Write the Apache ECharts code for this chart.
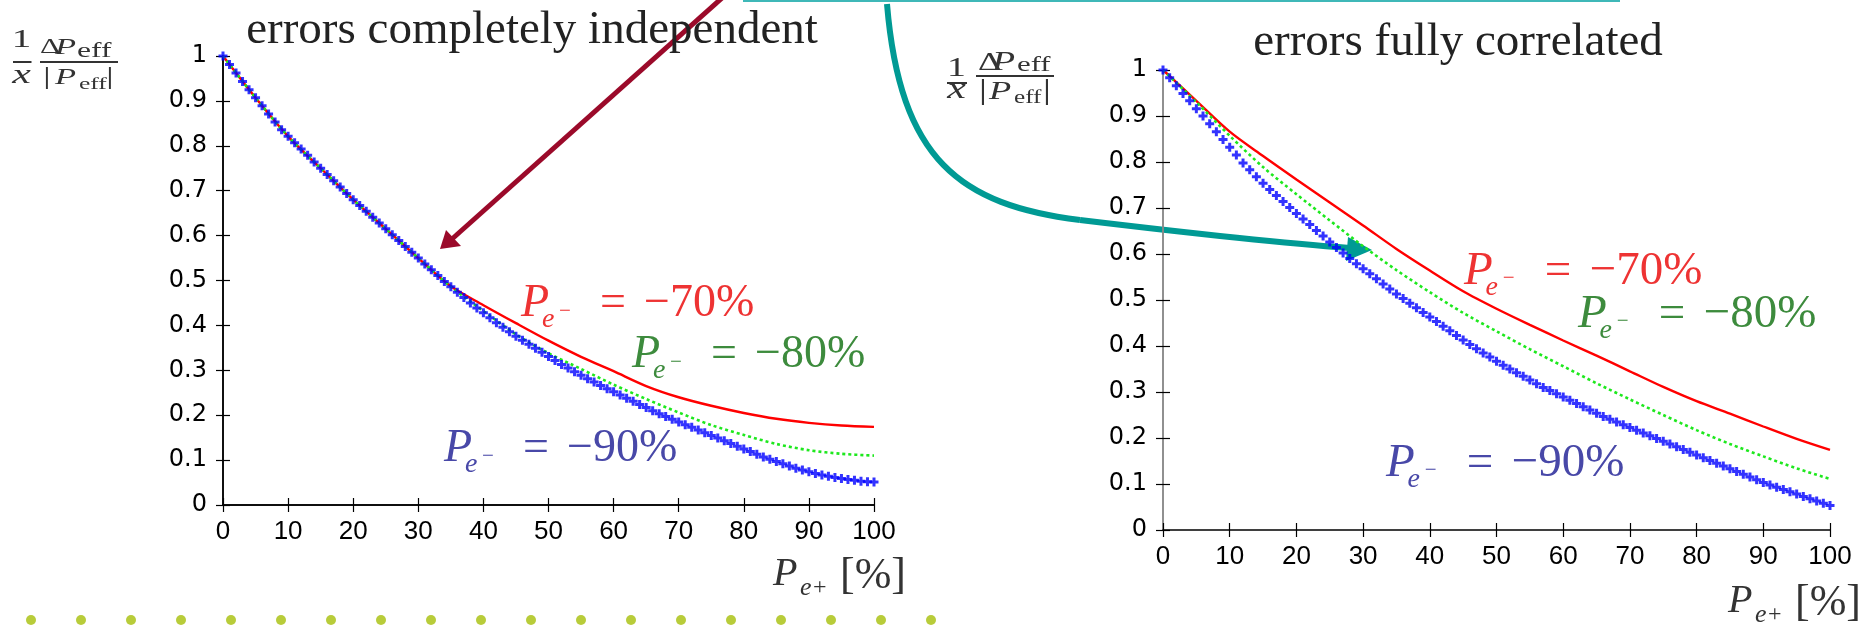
<!DOCTYPE html>
<html><head><meta charset="utf-8">
<script src="https://cdn.jsdelivr.net/npm/echarts@6/dist/echarts.min.js"></script>
<style>html,body{margin:0;padding:0;background:#fff}#c{width:1871px;height:627px}</style>
</head><body><div id="c"></div>
<script>
// ---------------- data ----------------
const pctFine = Array.from({length: 101}, (_, i) => i);
const pctCoarse = [0,5,10,15,20,25,30,35,40,45,50,55,60,65,70,75,80,85,90,95,100];
const yTickLabels = ['0','0.1','0.2','0.3','0.4','0.5','0.6','0.7','0.8','0.9','1'];
const xTickLabels = ['0','10','20','30','40','50','60','70','80','90','100'];

// errors completely independent
const indepBlue = [
 1.000,0.981,0.962,0.943,0.925,0.907,0.889,0.871,0.853,0.836,
 0.821,0.807,0.793,0.779,0.764,0.750,0.736,0.722,0.708,0.694,
 0.680,0.667,0.654,0.641,0.628,0.615,0.602,0.589,0.576,0.563,
 0.550,0.537,0.524,0.511,0.498,0.486,0.474,0.462,0.450,0.439,
 0.428,0.417,0.406,0.396,0.386,0.376,0.367,0.358,0.349,0.340,
 0.331,0.322,0.313,0.305,0.297,0.289,0.281,0.274,0.266,0.259,
 0.252,0.245,0.238,0.231,0.224,0.217,0.210,0.203,0.197,0.191,
 0.185,0.179,0.173,0.167,0.161,0.155,0.149,0.143,0.137,0.131,
 0.125,0.119,0.113,0.107,0.102,0.097,0.092,0.087,0.082,0.078,
 0.074,0.070,0.067,0.064,0.061,0.059,0.057,0.055,0.053,0.052,
 0.051];
const indepRed   = [1.000,0.907,0.821,0.750,0.680,0.615,0.550,0.487,0.445,0.405,0.366,0.330,0.298,0.265,0.240,0.221,0.205,0.192,0.183,0.177,0.174];
const indepGreen = [1.000,0.907,0.821,0.750,0.680,0.615,0.550,0.486,0.432,0.380,0.338,0.303,0.268,0.236,0.206,0.178,0.156,0.136,0.122,0.114,0.110];

// errors fully correlated
const corrBlue = [
 1.000,0.983,0.966,0.949,0.933,0.916,0.900,0.883,0.866,0.849,
 0.832,0.815,0.798,0.783,0.768,0.754,0.740,0.727,0.714,0.701,
 0.688,0.676,0.664,0.651,0.639,0.626,0.614,0.602,0.590,0.579,
 0.568,0.557,0.546,0.535,0.524,0.513,0.503,0.493,0.483,0.473,
 0.463,0.453,0.443,0.433,0.423,0.413,0.403,0.394,0.385,0.376,
 0.367,0.358,0.350,0.342,0.334,0.326,0.318,0.310,0.303,0.296,
 0.289,0.282,0.275,0.268,0.261,0.254,0.247,0.241,0.235,0.229,
 0.223,0.217,0.211,0.205,0.199,0.193,0.187,0.181,0.175,0.169,
 0.163,0.157,0.151,0.145,0.139,0.133,0.127,0.121,0.115,0.109,
 0.103,0.098,0.093,0.088,0.083,0.078,0.073,0.068,0.063,0.058,
 0.053];
const corrRed   = [1.000,0.933,0.866,0.813,0.762,0.712,0.662,0.611,0.564,0.519,0.481,0.446,0.412,0.379,0.345,0.311,0.280,0.253,0.225,0.198,0.174];
const corrGreen = [1.000,0.930,0.857,0.789,0.730,0.673,0.617,0.565,0.517,0.472,0.432,0.393,0.356,0.319,0.284,0.250,0.217,0.187,0.160,0.134,0.111];

const titles = ['errors completely independent', 'errors fully correlated'];
const seriesLabels = ['= \u221270%', '= \u221280%', '= \u221290%'];

// ---------------- helpers ----------------
const pairs = (xs, ys) => xs.map((x, i) => [x, ys[i]]);
const SERIF = '"Liberation Serif", "DejaVu Serif", serif';
const SANS = '"Liberation Sans", Arial, sans-serif';
const PLUS = 'path://M3,0H6V3H9V6H6V9H3V6H0V3H3Z';

function txt(x, y, text, font, color, align) {
  return {type:'text', x:x, y:y, silent:true,
    style:{text:text, font:font, fill:color, align:align||'left', verticalAlign:'middle'}};
}
function peLabel(x0, base, fs, color, rest) {
  const k = fs / 46;
  const [eq, val] = rest.split(' ');
  return {type:'group', x:x0, y:base, children:[
    txt(0, -0.34*fs, 'P', 'italic ' + fs + 'px ' + SERIF, color),
    txt(21*k, 9*k - 0.34*0.6*fs, 'e', 'italic ' + Math.round(0.6*fs) + 'px ' + SERIF, color),
    txt(38*k, -9*k, '\u2212', Math.round(0.45*fs) + 'px ' + SERIF, color),
    txt(79*k, -0.34*fs, eq, fs + 'px ' + SERIF, color),
    txt(123*k, -0.34*fs, val, fs + 'px ' + SERIF, color)
  ]};
}
function xName(x0, base) {
  const c = '#333';
  return {type:'group', x:x0, y:base, children:[
    txt(0, -13.5, 'P', 'italic 40px ' + SERIF, c),
    txt(27, 0, 'e', 'italic 26px ' + SERIF, c),
    txt(40, 0, '+', '24px ' + SERIF, c),
    txt(67, -12, '[%]', '44px ' + SERIF, c)
  ]};
}
// fraction label: items [text, x(full px), emMiddleY(full px), fontPx, italic, align]; bars [x, y, w]
function frac(x0, sx, items, bars) {
  const c = '#333';
  const ch = items.map(([t, x, y, fs, it, al]) =>
    txt((x - x0) / sx, y, t, (it ? 'italic ' : '') + fs + 'px ' + SERIF, c, al));
  bars.forEach(([x, y, w]) => ch.push({type:'rect', shape:{x:(x - x0) / sx, y:y, width:w / sx, height:2},
    style:{fill:c}, silent:true}));
  return {type:'group', x:x0, y:0, scaleX:sx, scaleY:1, children:ch};
}

// ---------------- axes ----------------
function xAxes(g, showLine, lineColor) {
  return [
    {type:'value', gridIndex:g, position:'bottom', min:0, max:100, interval:10,
      axisLine:{show:showLine, lineStyle:{color:lineColor, width:1.5}},
      axisTick:{show:true, inside:true, length:7, lineStyle:{color:'#000', width:1.2}},
      axisLabel:{margin:14, color:'#000', fontSize:26, fontFamily:SANS,
        formatter:(v)=>xTickLabels[Math.round(v/10)]},
      splitLine:{show:false}},
    {type:'value', gridIndex:g, position:'top', min:0, max:100, interval:10,
      axisLine:{show:true, lineStyle:{color:'#000', width:1.5}},
      axisTick:{show:true, inside:true, length:7, lineStyle:{color:'#000', width:1.2}},
      axisLabel:{show:false}, splitLine:{show:false}}
  ];
}
function yAxes(g, lineColor) {
  return [
    {type:'value', gridIndex:g, position:'left', min:0, max:1, interval:0.1,
      axisLine:{show:true, lineStyle:{color:lineColor, width:1.5}},
      axisTick:{show:true, inside:true, length:7, lineStyle:{color:'#000', width:1.2}},
      axisLabel:{margin:16, color:'#000', fontSize:24, fontFamily:'"DejaVu Sans", sans-serif',
        formatter:(v)=>yTickLabels[Math.round(v*10)]},
      splitLine:{show:false}},
    {type:'value', gridIndex:g, position:'right', min:0, max:1, interval:0.1,
      axisLine:{show:true, lineStyle:{color:lineColor, width:1.5}},
      axisTick:{show:true, inside:true, length:7, lineStyle:{color:'#000', width:1.2}},
      axisLabel:{show:false}, splitLine:{show:false}}
  ];
}
function plotSeries(xi, yi, red, green, blue) {
  return [
    {type:'line', xAxisIndex:xi, yAxisIndex:yi, data:pairs(pctCoarse, red), smooth:0.3,
      showSymbol:false, lineStyle:{color:'#ff0000', width:2.4}, z:2, silent:true},
    {type:'line', xAxisIndex:xi, yAxisIndex:yi, data:pairs(pctCoarse, green), smooth:0.3,
      showSymbol:false, lineStyle:{color:'#1ee81e', width:2.6, type:[3,3]}, z:3, silent:true},
    {type:'scatter', xAxisIndex:xi, yAxisIndex:yi, data:pairs(pctFine, blue), clip:false,
      symbol:PLUS, symbolSize:9, itemStyle:{color:'#0000ff'}, z:4, silent:true}
  ];
}

const chart = echarts.init(document.getElementById('c'), null, {renderer:'canvas'});

const graphics = [];
// slide decorations
graphics.push({type:'rect', shape:{x:743, y:0, width:877, height:2}, style:{fill:'#3fb8b8'}, silent:true});
graphics.push({type:'line', shape:{x1:722, y1:-2, x2:452, y2:239}, style:{stroke:'#9b0a2a', lineWidth:5}, silent:true});
graphics.push({type:'polygon', shape:{points:[[440,249],[446,230],[461,246]]}, style:{fill:'#9b0a2a'}, silent:true});
graphics.push({type:'bezierCurve', shape:{x1:887, y1:4, cpx1:900, cpy1:160, cpx2:960, cpy2:205, x2:1080, y2:220},
  style:{stroke:'#009a94', lineWidth:6, fill:null}, silent:true});
graphics.push({type:'bezierCurve', shape:{x1:1080, y1:220, cpx1:1180, cpy1:232, cpx2:1280, cpy2:243, x2:1350, y2:248},
  style:{stroke:'#009a94', lineWidth:6, fill:null}, silent:true});
graphics.push({type:'polygon', shape:{points:[[1372,250],[1348,237],[1346,261]]}, style:{fill:'#009a94'}, silent:true});
for (let k = 0; k < 19; k++) {
  graphics.push({type:'circle', shape:{cx:31 + 50*k, cy:620, r:5}, style:{fill:'#b8cc3a'}, silent:true});
}
// y-axis names (1/x · ΔP_eff/|P_eff|)
graphics.push(frac(13, 1.5, [
  ['1', 21.5, 40, 26, false, 'center'],
  ['x', 21.5, 75.5, 28, true, 'center'],
  ['\u0394', 40, 47.5, 21, false, 'left'],
  ['P', 55, 47.5, 23, true, 'left'],
  ['eff', 77, 51, 21, false, 'left'],
  ['|', 47, 77, 26, false, 'center'],
  ['P', 55, 77.5, 23, true, 'left'],
  ['eff', 79, 84.3, 17, false, 'left'],
  ['|', 110, 77, 26, false, 'center']
], [[13, 61, 18.5], [40, 61, 78]]));
graphics.push(frac(947, 1.4, [
  ['1', 956.5, 69, 27, false, 'center'],
  ['x', 956.5, 90, 30, true, 'center'],
  ['\u0394', 978, 63, 26, false, 'left'],
  ['P', 992, 63, 27, true, 'left'],
  ['eff', 1017, 65.5, 22, false, 'left'],
  ['|', 983, 90.7, 30, false, 'center'],
  ['P', 989, 92.5, 26, true, 'left'],
  ['eff', 1014, 98, 18, false, 'left'],
  ['|', 1047, 90.7, 30, false, 'center']
], [[947, 82, 20], [976, 75, 78]]));
// x-axis names
graphics.push(xName(773, 588));
graphics.push(xName(1728, 615));
// curve labels
graphics.push(peLabel(521, 320, 46, '#ee3333', seriesLabels[0]));
graphics.push(peLabel(632, 371, 46, '#3d8b3d', seriesLabels[1]));
graphics.push(peLabel(444, 465, 46, '#4848a8', seriesLabels[2]));
graphics.push(peLabel(1464, 288, 47, '#ee3333', seriesLabels[0]));
graphics.push(peLabel(1578, 331, 47, '#3d8b3d', seriesLabels[1]));
graphics.push(peLabel(1386, 480, 47, '#4848a8', seriesLabels[2]));

chart.setOption({
  backgroundColor:'#ffffff',
  animation:false,
  title:[
    {text:titles[0], left:532, top:7, textAlign:'center', padding:0,
      textStyle:{fontFamily:SERIF, fontSize:47, fontWeight:'normal', color:'#222'}},
    {text:titles[1], left:1458, top:19, textAlign:'center', padding:0,
      textStyle:{fontFamily:SERIF, fontSize:47, fontWeight:'normal', color:'#222'}}
  ],
  grid:[
    {left:223, top:56, width:651, height:449},
    {left:1163, top:70, width:667, height:460}
  ],
  xAxis:[...xAxes(0, true, '#000'), ...xAxes(1, false, '#000')],
  yAxis:[...yAxes(0, '#000'), ...yAxes(1, '#888')],
  series:[...plotSeries(0, 0, indepRed, indepGreen, indepBlue), ...plotSeries(2, 2, corrRed, corrGreen, corrBlue)],
  graphic:graphics
});
</script></body></html>
